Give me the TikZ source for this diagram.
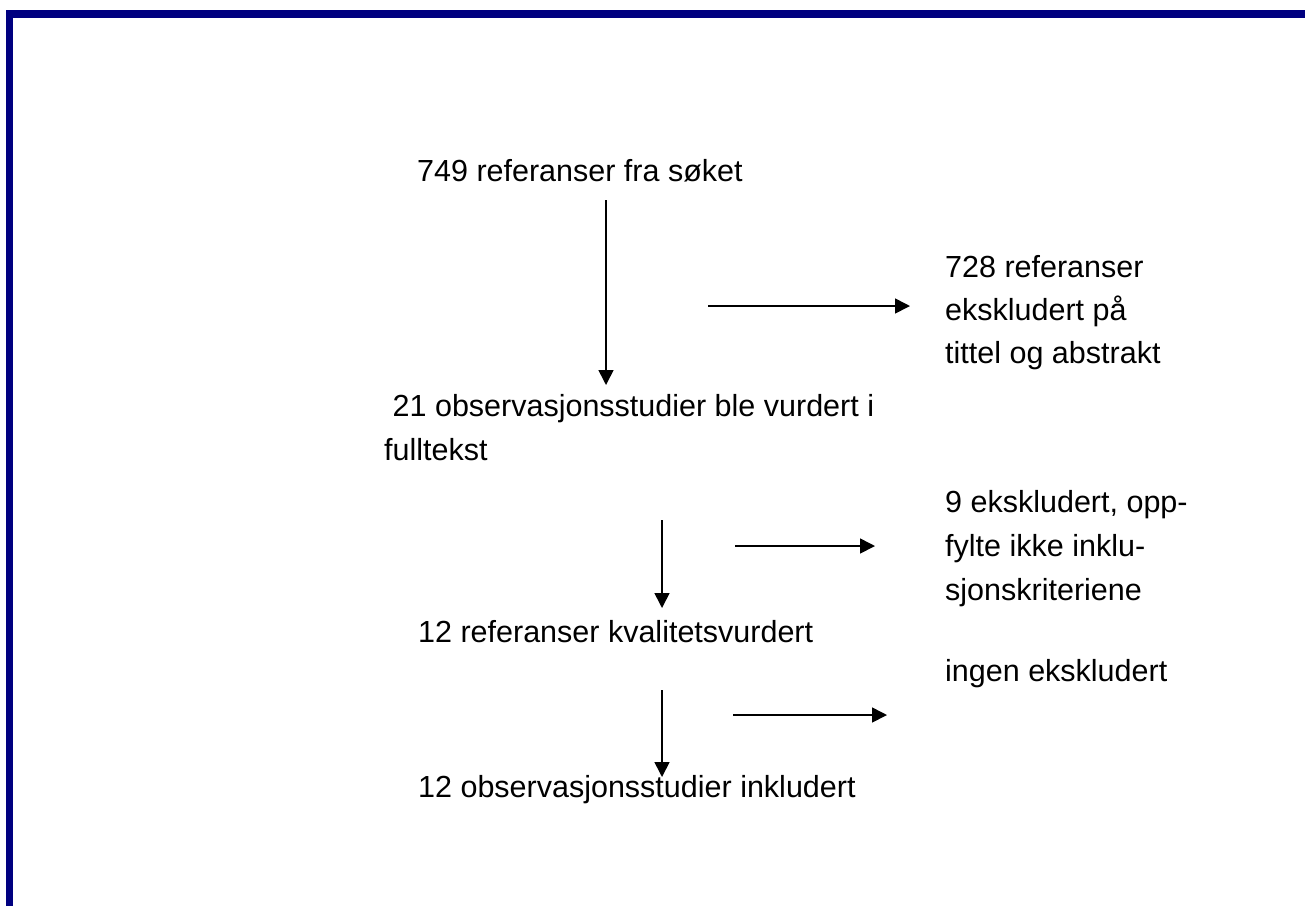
\documentclass[tikz,border=0pt]{standalone}
\usepackage{fontspec}
\setmainfont{Liberation Sans}
\usetikzlibrary{arrows.meta}
\definecolor{frameblue}{HTML}{000080}
\tikzset{
  lbl/.style={anchor=base west, inner sep=0pt, font=\fontsize{30.5}{44}\selectfont},
  arr/.style={line width=1.6pt, -{Triangle[length=15pt,width=15pt]}},
}
\begin{document}
\begin{tikzpicture}[x=1pt,y=-1pt]
\useasboundingbox (0,0) rectangle (1305,906);
% frame
\fill[frameblue] (6,10) rectangle (1305,18);
\fill[frameblue] (6,10) rectangle (13,906);
% texts
\node[lbl] (t1) at (417,181) {749 referanser fra søket};
\node[lbl] (t2a) at (384,416) {\ 21 observasjonsstudier ble vurdert i};
\node[lbl] (t2b) at (384,460) {fulltekst};
\node[lbl] (t3) at (418,642) {12 referanser kvalitetsvurdert};
\node[lbl] (t4) at (418,797) {12 observasjonsstudier inkludert};
\node[lbl] (e1a) at (945,277) {728 referanser};
\node[lbl] (e1b) at (945,320) {ekskludert på};
\node[lbl] (e1c) at (945,363) {tittel og abstrakt};
\node[lbl] (e2a) at (945,512) {9 ekskludert, opp-};
\node[lbl] (e2b) at (945,556) {fylte ikke inklu-};
\node[lbl] (e2c) at (945,600) {sjonskriteriene};
\node[lbl] (e3) at (945,681) {ingen ekskludert};
% arrow end points
\coordinate (v1s) at (606,200); \coordinate (v1e) at (606,385);
\coordinate (h1s) at (708,306); \coordinate (h1e) at (910,306);
\coordinate (v2s) at (662,520); \coordinate (v2e) at (662,608);
\coordinate (h2s) at (735,546); \coordinate (h2e) at (875,546);
\coordinate (v3s) at (662,690); \coordinate (v3e) at (662,777);
\coordinate (h3s) at (733,715); \coordinate (h3e) at (887,715);
\draw[arr] (v1s) -- (v1e);
\draw[arr] (h1s) -- (h1e);
\draw[arr] (v2s) -- (v2e);
\draw[arr] (h2s) -- (h2e);
\draw[arr] (v3s) -- (v3e);
\draw[arr] (h3s) -- (h3e);
\end{tikzpicture}
\end{document}
